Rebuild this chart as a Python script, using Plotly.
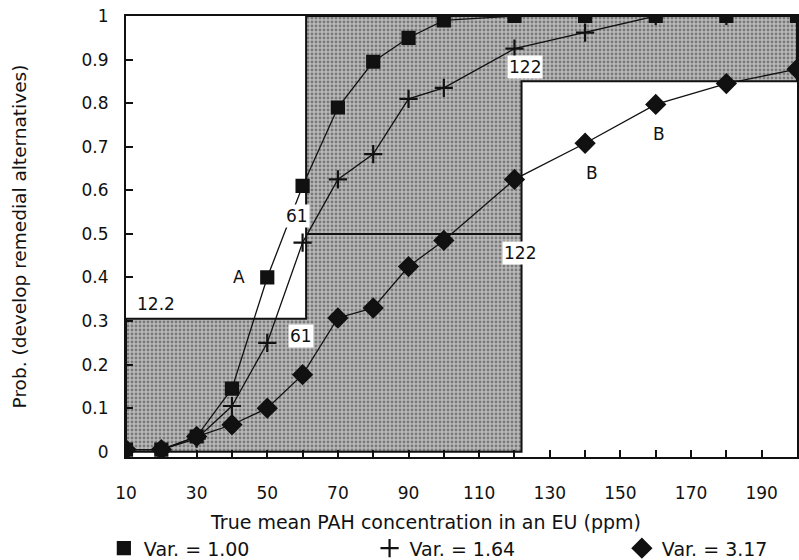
import plotly.graph_objects as go

# ---- data ----
x_conc = [10, 20, 30, 40, 50, 60, 70, 80, 90, 100, 120, 140, 160, 180, 200]
p_var100 = [0.005, 0.005, 0.035, 0.145, 0.40, 0.61, 0.79, 0.895, 0.95, 0.99, 1.0, 1.0, 1.0, 1.0, 1.0]
p_var164 = [0.005, 0.005, 0.03, 0.105, 0.25, 0.48, 0.625, 0.683, 0.81, 0.835, 0.925, 0.962, 1.0, 1.0, 1.0]
p_var317 = [0.005, 0.005, 0.035, 0.062, 0.10, 0.177, 0.307, 0.33, 0.425, 0.485, 0.625, 0.708, 0.797, 0.845, 0.878]
series_names = ["Var. = 1.00", "Var. = 1.64", "Var. = 3.17"]

# decision-region boundary (step) values
step_x = [10, 122, 122, 200, 200, 61, 61, 10, 10]
step_y = [0, 0, 0.85, 0.85, 1.0, 1.0, 0.305, 0.305, 0]
mid_line_x = [61, 122]
mid_line_y = [0.5, 0.5]

x_ticks = [10, 30, 50, 70, 90, 110, 130, 150, 170, 190]
x_title = "True mean PAH concentration in an EU (ppm)"
y_title = "Prob. (develop remedial alternatives)"

FONT = "DejaVu Sans"

fig = go.Figure()

# shaded region
fig.add_trace(go.Scatter(
    x=step_x, y=step_y, mode="lines", fill="toself",
    fillcolor="#a0a0a0",
    fillpattern=dict(shape=".", bgcolor="#bababa", fgcolor="#3a3a3a", size=4, solidity=0.42),
    line=dict(color="#111", width=2), showlegend=False, hoverinfo="skip"))
fig.add_trace(go.Scatter(x=mid_line_x, y=mid_line_y, mode="lines",
                         line=dict(color="#111", width=2), showlegend=False, hoverinfo="skip"))

symbols = ["square", "cross-thin", "diamond"]
sizes = [12, 13, 14]
values = [p_var100, p_var164, p_var317]
legends = ["legend", "legend2", "legend3"]
for name, vals, sym, sz, lg in zip(series_names, values, symbols, sizes, legends):
    fig.add_trace(go.Scatter(
        x=x_conc, y=vals, mode="lines+markers",
        line=dict(color="#111", width=1.3),
        marker=dict(symbol=sym, size=sz, color="#111", line=dict(color="#111", width=2.2)),
        showlegend=False))
    fig.add_trace(go.Scatter(
        x=[None], y=[None], mode="markers", name=name, legend=lg,
        marker=dict(symbol=sym, size=sz, color="#111", line=dict(color="#111", width=2.2)),
        showlegend=True))

labels = [
    dict(x=42, y=0.40, text="A", bg=None),
    dict(x=18.5, y=0.34, text="12.2", bg=None),
    dict(x=59.5, y=0.265, text="61", bg="white"),
    dict(x=58.5, y=0.54, text="61", bg="white"),
    dict(x=123, y=0.882, text="122", bg="white"),
    dict(x=121.5, y=0.457, text="122", bg="white"),
    dict(x=142, y=0.64, text="B", bg=None),
    dict(x=161, y=0.73, text="B", bg=None),
]
for lb in labels:
    fig.add_annotation(x=lb["x"], y=lb["y"], text=lb["text"], showarrow=False,
                       font=dict(family=FONT, size=17, color="#111"),
                       bgcolor=lb["bg"] if lb["bg"] else "rgba(0,0,0,0)", borderpad=1)

# x-axis title (slightly left of centre, as in the original figure)
fig.add_annotation(x=0.447, y=-0.148, xref="paper", yref="paper", text=x_title,
                   showarrow=False, xanchor="center", yanchor="middle",
                   font=dict(family=FONT, size=19, color="#111"))

leg_common = dict(orientation="h", yanchor="middle", y=-0.207, xanchor="left",
                  font=dict(family=FONT, size=19, color="#111"), bgcolor="rgba(0,0,0,0)")
fig.update_layout(
    legend=dict(x=-0.033, **leg_common),
    legend2=dict(x=0.363, **leg_common),
    legend3=dict(x=0.739, **leg_common),
)

fig.update_xaxes(range=[10, 200], tickmode="array", tickvals=x_ticks,
                 ticks="inside", ticklen=7, tickwidth=1.5, tickcolor="#111",
                 minor=dict(dtick=10, tick0=10, ticks="inside", ticklen=7, tickwidth=1.5, tickcolor="#111"),
                 showline=True, linecolor="#111", linewidth=2, mirror=True,
                 showgrid=False, zeroline=False, ticklabelstandoff=20,
                 tickfont=dict(family=FONT, size=17, color="#111"))
fig.update_yaxes(range=[-0.012, 1.0], dtick=0.1, tick0=0,
                 ticks="inside", ticklen=7, tickwidth=1.5, tickcolor="#111",
                 showline=True, linecolor="#111", linewidth=2, mirror=True,
                 showgrid=False, zeroline=False, ticklabelstandoff=12,
                 tickfont=dict(family=FONT, size=17, color="#111"),
                 title=dict(text=y_title,
                            font=dict(family=FONT, size=18.5, color="#111"), standoff=50))

fig.update_layout(width=799, height=560,
                  margin=dict(l=126, r=2, t=16, b=103, autoexpand=False),
                  paper_bgcolor="white", plot_bgcolor="white",
                  font=dict(family=FONT, size=16, color="#111"))

fig.write_html("out.html")
